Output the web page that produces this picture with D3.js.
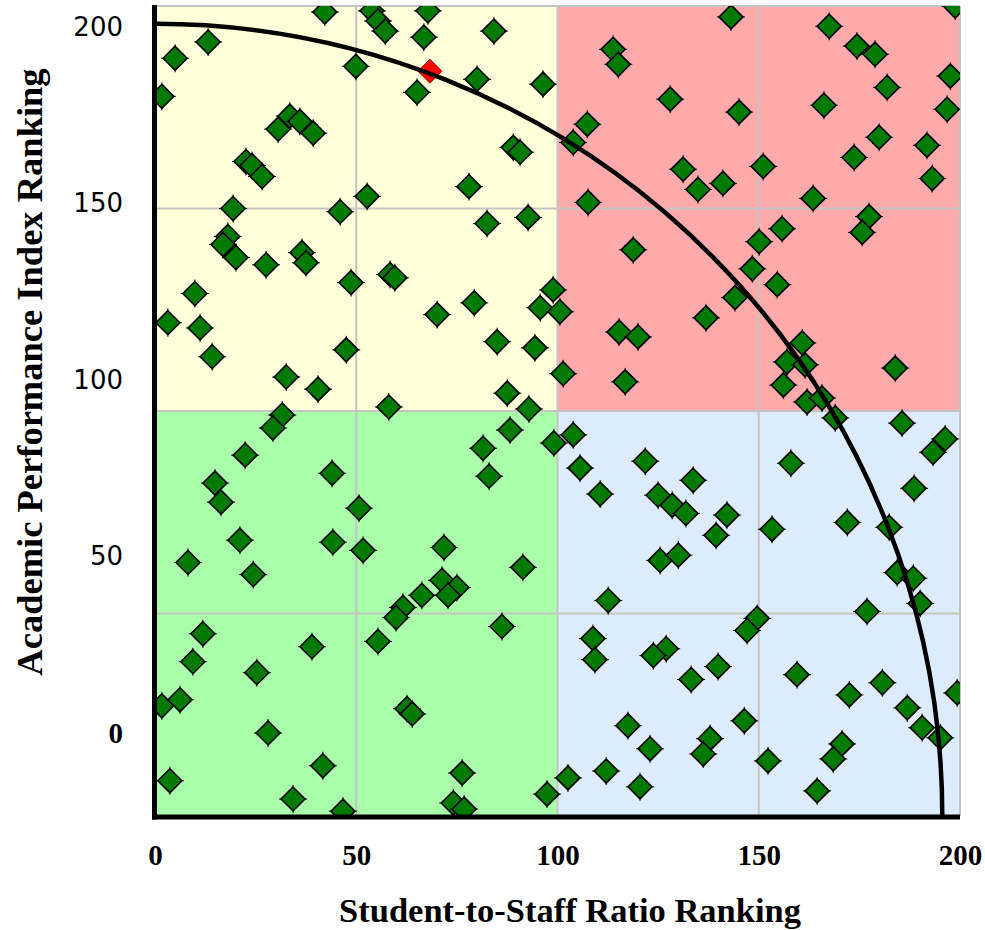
<!DOCTYPE html>
<html><head><meta charset="utf-8">
<script src="https://cdn.jsdelivr.net/npm/d3@7"></script>
<style>
html,body{margin:0;padding:0;background:#fff;}
svg{display:block;}
</style></head>
<body>
<svg id="chart" width="985" height="930"></svg>
<script>
// ---------------- data ----------------
const xTitle = "Student-to-Staff Ratio Ranking";
const yTitle = "Academic Performance Index Ranking";
const xTickValues = [0, 50, 100, 150, 200];
const yTickValues = [0, 50, 100, 150, 200];
const gridValues = [50, 100, 150];
const quadrantX0 = [0, 100, 0, 100];
const quadrantX1 = [100, 200, 100, 200];
const quadrantY0 = [100, 100, 0, 0];
const quadrantY1 = [200, 200, 100, 100];
const quadrantColors = ["#FFFFD9", "#FFAAAA", "#AAFFAA", "#DDECFC"];
const arcRadius = 195.6;
const highlightX = [68.3];
const highlightY = [183.9];

const ratioRank = [
  1.7,5.0,13.2,30.6,33.5,36.0,39.3,22.6,24.1,26.6,19.4,18.1,16.9,20.1,27.6,36.5,37.5,9.9,3.2,11.2,
  14.2,32.6,40.5,42.2,53.9,55.4,57.2,67.8,66.8,84.2,49.9,65.1,80.0,96.4,89.0,90.7,78.0,52.7,46.0,82.5,
  92.7,48.7,58.4,59.6,70.1,79.3,98.9,95.7,100.6,85.0,94.4,47.5,101.4,87.5,92.9,58.1,
  107.4,103.9,107.6,118.8,113.8,115.1,115.3,120.0,116.8,128.0,143.1,167.5,174.4,178.9,198.8,197.6,181.9,196.8,145.1,166.2,
  179.9,191.8,173.7,193.1,131.2,134.9,141.1,151.1,163.5,177.4,175.7,155.8,150.1,148.4,154.6,144.1,136.9,160.8,157.0,161.5,
  156.1,162.0,165.7,183.9,
  169.0,185.6,196.3,193.3,158.0,133.7,125.0,128.5,131.9,142.1,139.4,188.6,153.3,172.0,182.4,125.5,130.0,184.4,188.4,190.1,
  176.9,149.6,147.1,127.0,123.8,139.9,133.2,159.5,172.5,180.7,199.3,186.9,190.6,195.1,146.4,123.0,137.9,136.2,152.3,170.7,
  168.5,164.5,108.8,109.3,117.5,112.1,120.5,102.6,103.9,105.6,110.6,121.8,112.6,
  31.6,29.3,22.4,14.9,16.4,21.1,8.2,24.4,44.0,50.7,44.2,51.7,71.8,81.5,83.0,88.2,99.1,91.4,71.3,75.0,
  72.8,66.3,61.6,59.9,55.4,86.2,62.6,63.9,76.3,74.1,76.8,46.7,97.4,11.9,9.4,25.3,39.0,1.7,6.2,28.1,
  41.7,3.7,34.3
];
const apiRank = [
  177.7,187.1,191.1,169.6,172.8,171.5,168.6,161.6,160.6,157.9,150.0,143.1,141.1,137.9,136.1,139.1,136.6,129.0,121.8,120.5,
  113.4,108.4,105.4,198.5,198.8,196.3,193.8,198.8,192.3,193.8,185.1,178.7,181.9,180.7,165.1,163.9,155.4,153.0,149.2,146.3,
  147.8,131.7,133.7,132.9,123.8,126.7,129.9,125.5,124.5,117.1,115.6,115.1,109.2,104.4,100.5,101.0,
  170.8,166.3,151.5,139.8,189.3,185.6,119.5,118.3,107.2,177.0,197.3,195.0,190.1,188.1,200.0,182.7,179.9,174.5,173.8,175.5,
  167.6,165.6,162.6,157.4,159.7,154.7,156.2,160.4,152.5,148.0,144.1,145.0,141.8,135.1,131.2,128.0,123.0,116.8,112.1,111.4,
  106.4,102.2,103.2,110.6,
  98.3,97.0,93.1,89.8,87.1,82.9,79.2,76.7,74.7,74.3,69.3,80.9,70.8,72.5,71.3,63.1,64.4,60.1,58.7,52.5,
  50.5,48.8,45.8,41.3,39.6,36.9,33.7,34.9,29.9,32.9,30.4,26.7,21.8,19.3,23.5,16.6,19.1,15.3,13.6,17.8,
  14.1,6.2,43.8,38.6,22.3,11.1,7.2,9.4,94.1,85.9,79.5,87.6,53.2,
  99.0,95.8,89.1,82.2,77.5,68.1,62.6,59.6,84.6,76.0,67.6,65.6,66.3,90.8,83.9,95.3,92.1,61.4,58.2,56.4,
  54.5,54.5,51.5,49.0,43.1,46.8,26.5,25.2,10.6,3.2,1.7,1.2,5.4,45.0,38.1,35.4,41.8,27.2,28.7,20.5,
  12.4,8.7,4.2
];

// ---------------- drawing ----------------
const svg = d3.select("#chart");
const x = d3.scaleLinear().domain([0, 200]).range([155, 960]);
const y = d3.scaleLinear().domain([0, 200]).range([816, 6]);
const yLabel = d3.scaleLinear().domain([0, 200]).range([733, 27]);

svg.append("defs").append("clipPath").attr("id", "plotClip")
  .append("rect").attr("x", x(0)).attr("y", y(200))
  .attr("width", x(200) - x(0)).attr("height", y(0) - y(200));

// quadrants
svg.append("g").selectAll("rect").data(quadrantColors).join("rect")
  .attr("x", (d, i) => x(quadrantX0[i]))
  .attr("y", (d, i) => y(quadrantY1[i]))
  .attr("width", (d, i) => x(quadrantX1[i]) - x(quadrantX0[i]))
  .attr("height", (d, i) => y(quadrantY0[i]) - y(quadrantY1[i]))
  .attr("fill", d => d);

// grid
const grid = svg.append("g").attr("stroke", "#C4C4C4").attr("stroke-width", 2);
grid.selectAll("line.v").data(gridValues).join("line").attr("class", "v")
  .attr("x1", d => x(d)).attr("x2", d => x(d)).attr("y1", y(200)).attr("y2", y(0));
grid.selectAll("line.h").data(gridValues).join("line").attr("class", "h")
  .attr("y1", d => y(d)).attr("y2", d => y(d)).attr("x1", x(0)).attr("x2", x(200));
// top/right border
grid.append("line").attr("x1", x(0)).attr("x2", x(200)).attr("y1", y(200)).attr("y2", y(200));
grid.append("line").attr("x1", x(200)).attr("x2", x(200)).attr("y1", y(200)).attr("y2", y(0));

// markers
const R = 12;
const diamond = `M0,${-R}L${R},0L0,${R}L${-R},0Z`;
const pts = svg.append("g").attr("clip-path", "url(#plotClip)");
const g1 = pts.selectAll("g.pt").data(ratioRank).join("g").attr("class", "pt")
  .attr("transform", (d, i) => `translate(${x(d)},${y(apiRank[i])})`);
g1.append("path").attr("d", `M0,${-R-2}V${R+2}M${-R-2},0H${R+2}`)
  .attr("stroke", "#000").attr("stroke-width", 1);
g1.append("path").attr("d", diamond)
  .attr("fill", "#007A00").attr("stroke", "#000").attr("stroke-width", 1.6);

const hl = pts.selectAll("g.hl").data(highlightX).join("g").attr("class", "hl")
  .attr("transform", (d, i) => `translate(${x(d)},${y(highlightY[i])})`);
hl.append("path").attr("d", diamond).attr("fill", "#FF0000").attr("stroke", "#B00000").attr("stroke-width", 1);

// arc
const rx = x(arcRadius) - x(0), ry = y(0) - y(arcRadius);
svg.append("path")
  .attr("d", `M${x(0)},${y(arcRadius)}A${rx},${ry} 0 0 1 ${x(arcRadius)},${y(0)}`)
  .attr("fill", "none").attr("stroke", "#000").attr("stroke-width", 4.5);

// axis lines
svg.append("line").attr("x1", x(0) - 0.5).attr("x2", x(0) - 0.5).attr("y1", y(200) - 1).attr("y2", y(0) + 3.5)
  .attr("stroke", "#000").attr("stroke-width", 5);
svg.append("line").attr("x1", x(0) - 3).attr("x2", x(200)).attr("y1", y(0) + 1).attr("y2", y(0) + 1)
  .attr("stroke", "#000").attr("stroke-width", 5);

// x axis labels
const xAxis = svg.append("g").attr("transform", `translate(0,${y(0)})`)
  .call(d3.axisBottom(x).tickValues(xTickValues).tickSize(0).tickPadding(28).tickFormat(d3.format("d")));
xAxis.select(".domain").remove();
xAxis.selectAll("text").attr("fill", "#000")
  .style("font-family", "'Liberation Serif', 'Times New Roman', serif")
  .style("font-weight", "bold").style("font-size", "29px");

// y axis labels
const yAxis = svg.append("g").attr("transform", `translate(123,0)`)
  .call(d3.axisLeft(yLabel).tickValues(yTickValues).tickSize(0).tickPadding(0).tickFormat(d3.format("d")));
yAxis.select(".domain").remove();
yAxis.selectAll("text").attr("fill", "#000")
  .style("font-family", d => d === 0 ? "'Liberation Serif', serif" : "'DejaVu Sans', Verdana, sans-serif")
  .style("font-weight", d => d === 0 ? "bold" : "normal")
  .style("font-size", d => d === 0 ? "29px" : "26px");

// titles
svg.append("text").attr("x", 570).attr("y", 922).attr("text-anchor", "middle")
  .style("font-family", "'Liberation Serif', 'Times New Roman', serif")
  .style("font-weight", "bold").style("font-size", "34.5px").text(xTitle);
svg.append("text").attr("transform", "translate(42,372) rotate(-90)").attr("text-anchor", "middle")
  .style("font-family", "'Liberation Serif', 'Times New Roman', serif")
  .style("font-weight", "bold").style("font-size", "36.5px").text(yTitle);
</script>
</body></html>
